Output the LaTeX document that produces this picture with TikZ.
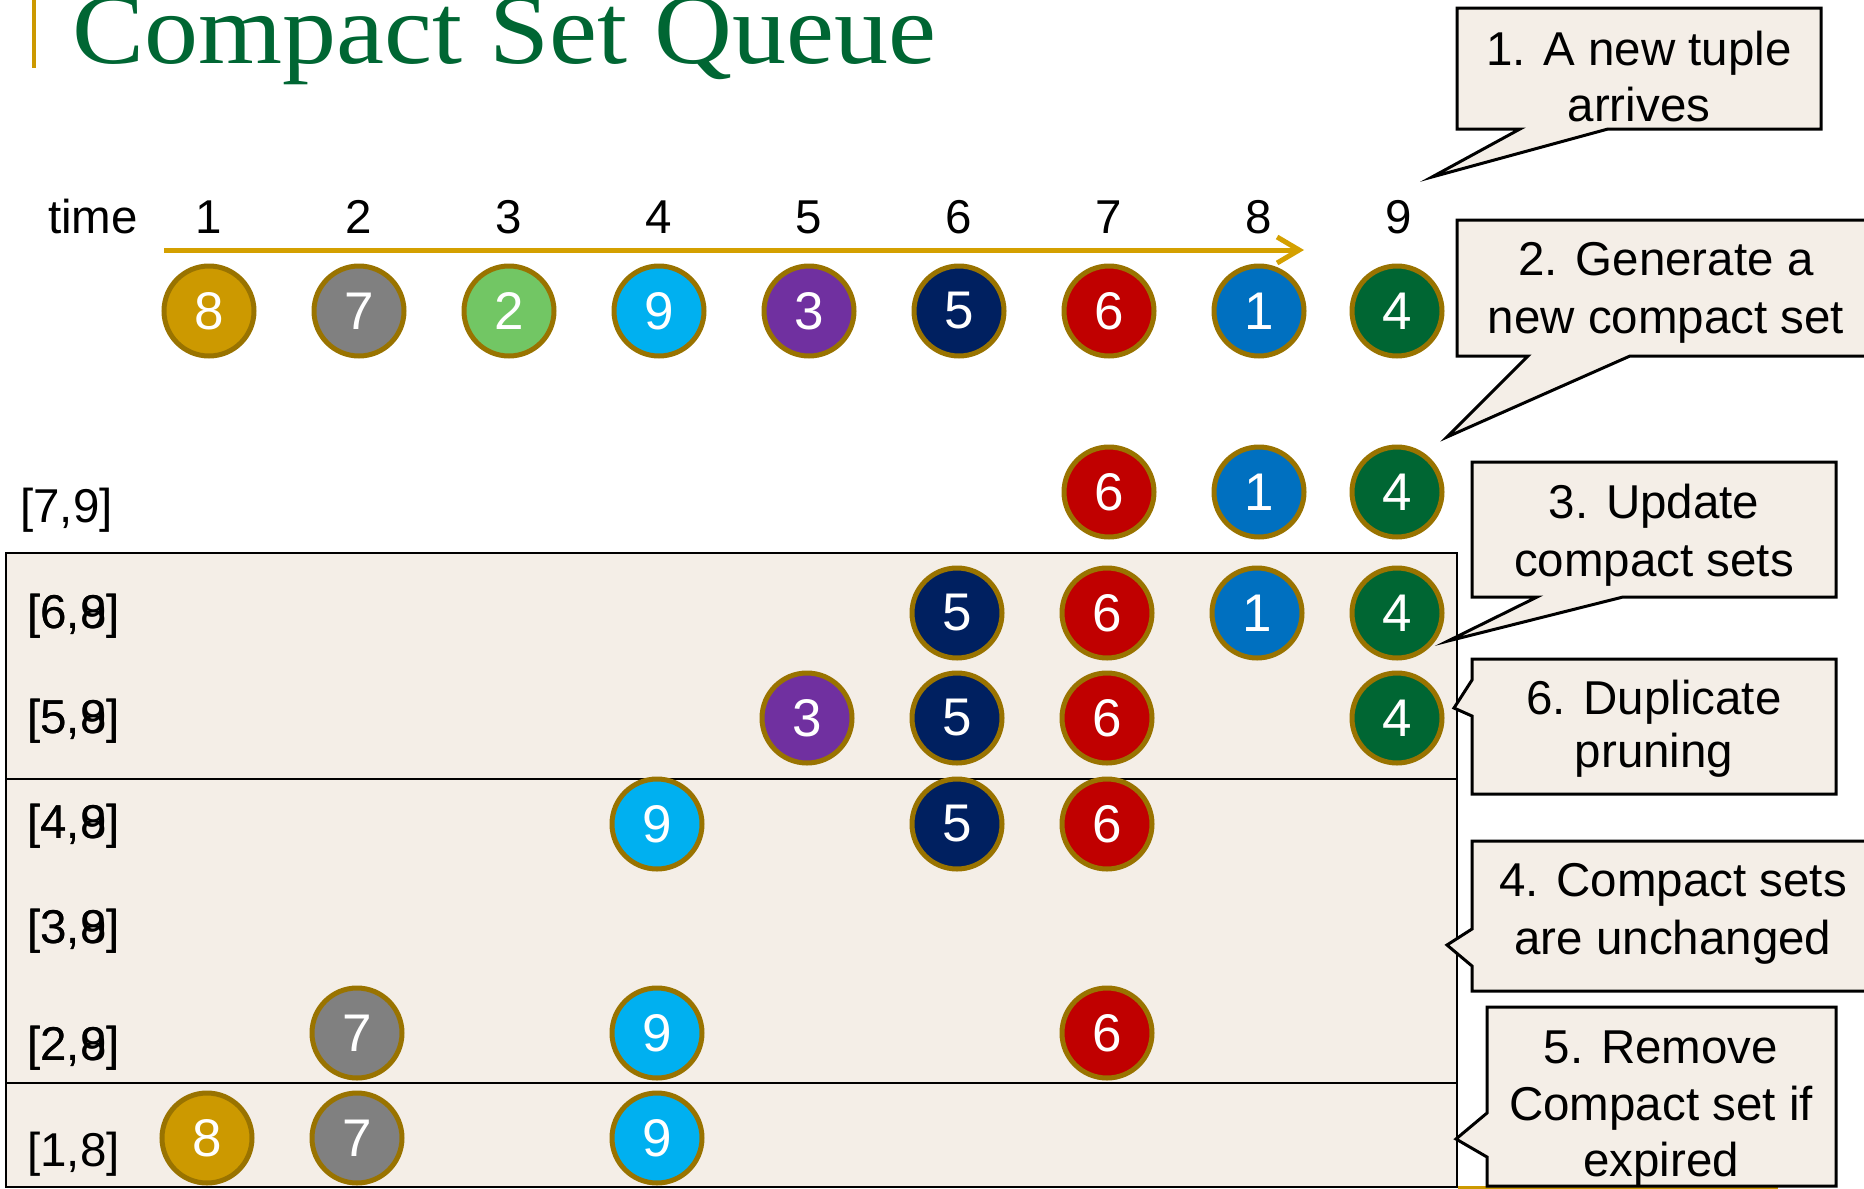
\documentclass[tikz,border=0pt]{standalone}
\usepackage{fontspec}
\setmainfont{Liberation Sans}
\newfontfamily\titlefont{Liberation Serif}
\usetikzlibrary{arrows.meta}
\definecolor{titlegreen}{RGB}{0,102,51}
\definecolor{barGold}{RGB}{204,153,0}
\definecolor{axisgold}{RGB}{212,160,0}
\definecolor{ringbrown}{RGB}{153,115,0}
\definecolor{paper}{RGB}{244,238,231}
\definecolor{cEight}{RGB}{204,153,0}
\definecolor{cSeven}{RGB}{128,128,128}
\definecolor{cTwo}{RGB}{114,198,100}
\definecolor{cNine}{RGB}{0,176,240}
\definecolor{cThree}{RGB}{112,48,160}
\definecolor{cFive}{RGB}{0,32,96}
\definecolor{cSix}{RGB}{192,0,0}
\definecolor{cOne}{RGB}{0,112,192}
\definecolor{cFour}{RGB}{0,102,51}
\tikzset{
  tup/.style={circle, draw=ringbrown, line width=5pt, minimum size=90pt, inner sep=0pt,
    text=white, font=\fontsize{53}{60}\selectfont},
  v1/.style={tup, fill=cOne}, v2/.style={tup, fill=cTwo}, v3/.style={tup, fill=cThree},
  v4/.style={tup, fill=cFour}, v5/.style={tup, fill=cFive}, v6/.style={tup, fill=cSix},
  v7/.style={tup, fill=cSeven}, v8/.style={tup, fill=cEight}, v9/.style={tup, fill=cNine},
  lbl/.style={anchor=base west, inner sep=0pt, font=\fontsize{47.5}{57}\selectfont},
  tnum/.style={anchor=base, inner sep=0pt, font=\fontsize{47.5}{57}\selectfont},
  ctext/.style={anchor=base, inner sep=0pt, font=\fontsize{47.5}{57}\selectfont},
  setbox/.style={draw=black, fill=paper, line width=2.5pt},
  callout/.style={draw=black, fill=paper, line width=3pt, line join=miter},
  axisline/.style={draw=axisgold, line width=5pt, -{Straight Barb[length=22pt,width=26pt]}},
}
\begin{document}
\begin{tikzpicture}[x=1pt,y=-1pt]
\useasboundingbox (0,0) rectangle (1864,1189);
\clip (0,0) rectangle (1864,1189);
% title
\fill[barGold] (32,0) rectangle (35.5,68);
\node[anchor=base west, inner sep=0pt, text=titlegreen, xscale=1.08,
  font=\titlefont\fontsize{100}{100}\selectfont] (title) at (72,63) {Compact Set Queue};
% time axis
\node[lbl] (timelbl) at (48,233) {time};
\foreach \i/\x in {1/209,2/359,3/509,4/659,5/809,6/959,7/1109,8/1259,9/1399}
  \node[tnum] (tn\i) at (\x,233) {\i};
\coordinate (ax0) at (164,250);
\coordinate (ax1) at (1304,250);
\draw[axisline] (ax0) -- (ax1);
% arriving tuples
\node[v8] (a1) at (209,311) {8};
\node[v7] (a2) at (359,311) {7};
\node[v2] (a3) at (509,311) {2};
\node[v9] (a4) at (659,311) {9};
\node[v3] (a5) at (809,311) {3};
\node[v5] (a6) at (959,311) {5};
\node[v6] (a7) at (1109,311) {6};
\node[v1] (a8) at (1259,311) {1};
\node[v4] (a9) at (1397,311) {4};
% new compact set
\node[lbl] (l79) at (20,522) {[7,9]};
\node[v6] (n7) at (1109,492) {6};
\node[v1] (n8) at (1259,492) {1};
\node[v4] (n9) at (1397,492) {4};
% compact set boxes
\draw[setbox] (6,553) rectangle (1457,779);
\draw[setbox] (6,779) rectangle (1457,1083);
\draw[setbox] (6,1083) rectangle (1457,1187);
% gold footer line
\fill[barGold] (1458,1186) rectangle (1778,1189);
% labels (overprinted)
\foreach \k/\y in {6/628,5/733,4/838,3/943,2/1060}{
  \node[lbl] (lb\k a) at (27,\y) {[\k,8]};
  \node[lbl] (lb\k b) at (27,\y) {[\k,9]};
}
\node[lbl] (l18) at (27,1166) {[1,8]};
% row [6,9]
\node[v5] (r6c6) at (957,613) {5};
\node[v6] (r6c7) at (1107,613) {6};
\node[v1] (r6c8) at (1257,613) {1};
\node[v4] (r6c9) at (1397,613) {4};
% row [5,9]
\node[v3] (r5c5) at (807,718) {3};
\node[v5] (r5c6) at (957,718) {5};
\node[v6] (r5c7) at (1107,718) {6};
\node[v4] (r5c9) at (1397,718) {4};
% row [4,9]
\node[v9] (r4c4) at (657,824) {9};
\node[v5] (r4c6) at (957,824) {5};
\node[v6] (r4c7) at (1107,824) {6};
% row [2,9]
\node[v7] (r2c2) at (357,1033) {7};
\node[v9] (r2c4) at (657,1033) {9};
\node[v6] (r2c7) at (1107,1033) {6};
% row [1,8]
\node[v8] (r1c1) at (207,1138) {8};
\node[v7] (r1c2) at (357,1138) {7};
\node[v9] (r1c4) at (657,1138) {9};
% callout 1
\draw[callout] (1457,8) -- (1821,8) -- (1821,129) -- (1608,129) -- (1432,177) -- (1520,129) -- (1457,129) -- cycle;
\node[ctext] (c1a) at (1639,65) {1. A new tuple};
\node[ctext] (c1b) at (1639,121) {arrives};
% callout 2
\draw[callout] (1457,220) -- (1875,220) -- (1875,356) -- (1630,356) -- (1447,437) -- (1528,356) -- (1457,356) -- cycle;
\node[ctext] (c2a) at (1666,275) {2. Generate a};
\node[ctext] (c2b) at (1666,333) {new compact set};
% callout 3
\draw[callout] (1472,462) -- (1836,462) -- (1836,597) -- (1623,597) -- (1448,641) -- (1537,597) -- (1472,597) -- cycle;
\node[ctext] (c3a) at (1654,518) {3. Update};
\node[ctext] (c3b) at (1654,576) {compact sets};
% callout 6
\draw[callout] (1472,659) -- (1836,659) -- (1836,794) -- (1472,794) -- (1472,716) -- (1454,708) -- (1472,680) -- cycle;
\node[ctext] (c6a) at (1654,714) {6. Duplicate};
\node[ctext] (c6b) at (1654,767) {pruning};
% callout 4
\draw[callout] (1472,841) -- (1875,841) -- (1875,991) -- (1472,991) -- (1472,966) -- (1447,945) -- (1472,929) -- cycle;
\node[ctext] (c4a) at (1673,896) {4. Compact sets};
\node[ctext] (c4b) at (1673,954) {are unchanged};
% callout 5
\draw[callout] (1487,1007) -- (1836,1007) -- (1836,1186) -- (1487,1186) -- (1487,1157) -- (1456,1139) -- (1487,1113) -- cycle;
\node[ctext] (c5a) at (1661,1063) {5. Remove};
\node[ctext] (c5b) at (1661,1120) {Compact set if};
\node[ctext] (c5c) at (1661,1176) {expired};
\end{tikzpicture}
\end{document}
